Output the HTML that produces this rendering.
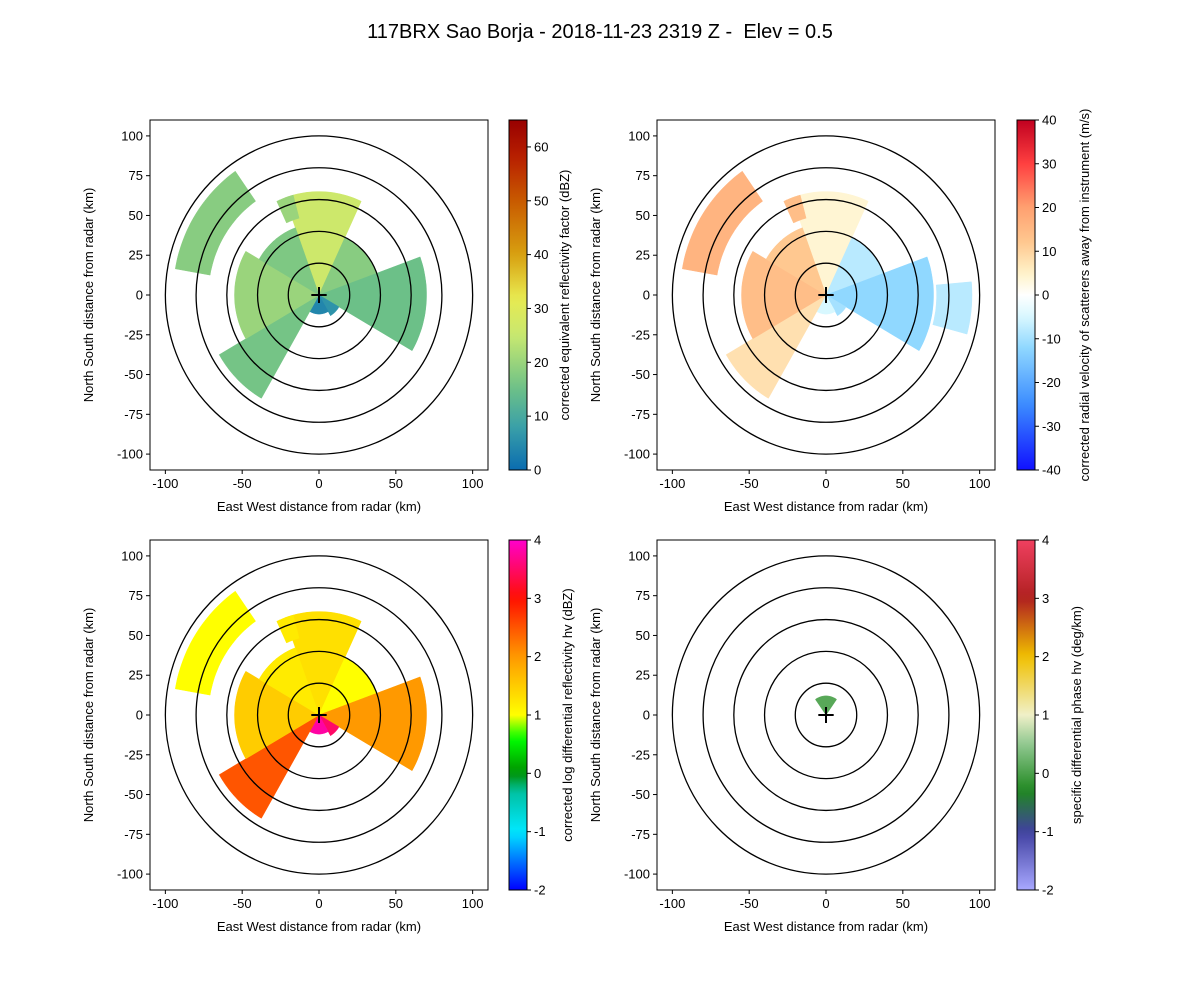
<!DOCTYPE html>
<html><head><meta charset="utf-8"><style>
body{margin:0;background:#fff}
svg text{font-family:"Liberation Sans",sans-serif;fill:#000}
</style></head><body>
<svg id="fig" width="1200" height="1000" xmlns="http://www.w3.org/2000/svg">
<text x="600" y="38" text-anchor="middle" font-size="20">117BRX Sao Borja - 2018-11-23 2319 Z -&#160; Elev = 0.5</text>
</svg>
<script>
// sector data: azimuth (deg clockwise from north), range extents (km)
const azStart = [-20, 25, 70, 120, 150, 210, 240, 300, 280, 335, 85];
const azEnd   = [ 25, 70, 120, 150, 210, 240, 300, 340, 325, 345, 105];
const rStart  = [  0,  0,  0,  0,  0,  0,  0,  0, 72, 50, 72];
const rEnd    = [ 65, 40, 70, 15, 12, 75, 55, 45, 95, 65, 95];
const reflVals = [26, 18, 15, 6, 4, 16, 20, 17, 18, 20, null];
const velVals  = [4, -8, -12, -10, -5, 8, 14, 12, 16, 14, -8];
const zdrVals  = [1.3, 1.0, 2.0, 3.5, 3.8, 2.5, 1.5, 1.2, 1.0, 1.2, null];
const kdpAzStart = [-35];
const kdpAzEnd = [35];
const kdpREnd = [12];
const kdpVals = [0.1];
const xTicks = [-100, -50, 0, 50, 100];
const yTicks = [-100, -75, -50, -25, 0, 25, 50, 75, 100];
const rings = [20, 40, 60, 80, 100];
const reflTicks = [0, 10, 20, 30, 40, 50, 60];
const velTicks = [-40, -30, -20, -10, 0, 10, 20, 30, 40];
const zdrTicks = [-2, -1, 0, 1, 2, 3, 4];
const kdpTicks = [-2, -1, 0, 1, 2, 3, 4];

const NS = "http://www.w3.org/2000/svg";
const svg = document.getElementById('fig');
function mk(tag, attrs, parent){const e=document.createElementNS(NS,tag);for(const k in attrs)e.setAttribute(k,attrs[k]);(parent||svg).appendChild(e);return e;}
function hex(h){return [parseInt(h.slice(1,3),16),parseInt(h.slice(3,5),16),parseInt(h.slice(5,7),16)];}
function cmap(stops, v){
  if(v<=stops[0][0])return stops[0][1];
  for(let i=1;i<stops.length;i++){if(v<=stops[i][0]){const a=stops[i-1],b=stops[i];const t=(v-a[0])/(b[0]-a[0]);const ca=hex(a[1]),cb=hex(b[1]);return 'rgb('+ca.map((c,j)=>Math.round(c+(cb[j]-c)*t)).join(',')+')';}}
  return stops[stops.length-1][1];
}
const reflCm=[[0,'#0a6cb0'],[8,'#3aa0a8'],[15,'#6cc088'],[25,'#c8e870'],[32,'#e8ea50'],[40,'#d8a010'],[50,'#c85a00'],[58,'#b82000'],[65,'#980000']];
const velCm=[[-40,'#1010ff'],[-25,'#3c8cff'],[-12,'#90d8ff'],[-5,'#d8f8ff'],[0,'#ffffff'],[5,'#fff2c8'],[12,'#ffc890'],[20,'#ffa070'],[30,'#ff4040'],[40,'#c00020']];
const zdrCm=[[-2,'#0000ff'],[-1,'#00e8ff'],[-0.3,'#00c0a0'],[0,'#009000'],[0.6,'#00ff00'],[1,'#ffff00'],[2,'#ff9900'],[3,'#ff1000'],[4,'#ff00cc']];
const kdpCm=[[-2,'#a8a8ff'],[-1,'#4040a0'],[-0.3,'#208820'],[0.5,'#90c890'],[1,'#f0f0c8'],[2,'#f0c000'],[3,'#b02020'],[4,'#f04060']];

const W=338,H=350;
function panel(x0,y0,name){
  const g=mk('g',{});
  
  
  const sx=km=>x0+(km+110)*W/220, sy=km=>y0+(110-km)*H/220;
  return {g,sx,sy,x0,y0};
}
function wedge(p,a0,a1,r0,r1,color,nm){
  let d='';const n=24;
  for(let i=0;i<=n;i++){const a=(a0+(a1-a0)*i/n)*Math.PI/180;d+=(i?'L':'M')+p.sx(r1*Math.sin(a)).toFixed(1)+','+p.sy(r1*Math.cos(a)).toFixed(1);}
  for(let i=n;i>=0;i--){const a=(a0+(a1-a0)*i/n)*Math.PI/180;d+='L'+p.sx(r0*Math.sin(a)).toFixed(1)+','+p.sy(r0*Math.cos(a)).toFixed(1);}
  const e=mk('path',{d:d+'Z',fill:color,stroke:color,'stroke-width':0.5},p.g);
  
  
}
function axesDecor(p,colTicks,cm,lo,hi,label,cbX,gid,labOff){
  rings.forEach(r=>{const c=mk('ellipse',{cx:p.sx(0),cy:p.sy(0),rx:r*W/220,ry:r*H/220,fill:'none',stroke:'#000','stroke-width':1.3},p.g);
    
    });
  const cr=mk('path',{d:`M${p.sx(-5)},${p.sy(0)}H${p.sx(5)}M${p.sx(0)},${p.sy(-5)}V${p.sy(5)}`,stroke:'#000','stroke-width':2},p.g);
  
  
  const fr=mk('rect',{x:p.x0,y:p.y0,width:W,height:H,fill:'none',stroke:'#000','stroke-width':1},p.g);
  
  
  xTicks.forEach(t=>{mk('line',{x1:p.sx(t),x2:p.sx(t),y1:p.y0+H,y2:p.y0+H+4,stroke:'#000'},p.g);
    const tx=mk('text',{x:p.sx(t),y:p.y0+H+18,'text-anchor':'middle','font-size':13},p.g);tx.textContent=t;
    
    });
  yTicks.forEach(t=>{mk('line',{x1:p.x0-4,x2:p.x0,y1:p.sy(t),y2:p.sy(t),stroke:'#000'},p.g);
    const tx=mk('text',{x:p.x0-7,y:p.sy(t)+4.5,'text-anchor':'end','font-size':13},p.g);tx.textContent=t;
    
    });
  const xl=mk('text',{x:p.x0+W/2,y:p.y0+H+41,'text-anchor':'middle','font-size':13},p.g);xl.textContent='East West distance from radar (km)';
  
  
  const yl=mk('text',{x:0,y:0,'text-anchor':'middle','font-size':13,transform:`translate(${p.x0-57},${p.y0+H/2}) rotate(-90)`},p.g);yl.textContent='North South distance from radar (km)';
  
  
  const defs=mk('defs',{},p.g);const lg=mk('linearGradient',{id:gid,x1:0,y1:1,x2:0,y2:0},defs);
  for(let i=0;i<=40;i++){const v=lo+(hi-lo)*i/40;mk('stop',{offset:i/40,'stop-color':cmap(cm,v)},lg);}
  const cb=mk('rect',{x:cbX,y:p.y0,width:18,height:H,fill:`url(#${gid})`,stroke:'#000','stroke-width':1},p.g);
  
  
  const cy=v=>p.y0+H-(v-lo)/(hi-lo)*H;
  colTicks.forEach(t=>{mk('line',{x1:cbX+18,x2:cbX+22,y1:cy(t),y2:cy(t),stroke:'#000'},p.g);
    const tx=mk('text',{x:cbX+25,y:cy(t)+4.5,'font-size':13},p.g);tx.textContent=t;
    
    });
  const cl=mk('text',{x:0,y:0,'text-anchor':'middle','font-size':13,transform:`translate(${cbX+labOff},${p.y0+H/2}) rotate(-90)`},p.g);cl.textContent=label;
  
  
}
function sectors(p,vals,cm,nm){
  for(let i=0;i<azStart.length;i++){if(vals[i]==null)continue;wedge(p,azStart[i],azEnd[i],rStart[i],rEnd[i],cmap(cm,vals[i]),nm+'-sector-'+i);}
}
const p1=panel(150,120,'reflectivity-panel');sectors(p1,reflVals,reflCm,'reflectivity');
axesDecor(p1,reflTicks,reflCm,0,65,'corrected equivalent reflectivity factor (dBZ)',509,'g1',60);
const p2=panel(657,120,'velocity-panel');sectors(p2,velVals,velCm,'velocity');
axesDecor(p2,velTicks,velCm,-40,40,'corrected radial velocity of scatterers away from instrument (m/s)',1017,'g2',72);
const p3=panel(150,540,'zdr-panel');sectors(p3,zdrVals,zdrCm,'zdr');
axesDecor(p3,zdrTicks,zdrCm,-2,4,'corrected log differential reflectivity hv (dBZ)',509,'g3',63);
const p4=panel(657,540,'kdp-panel');
for(let i=0;i<kdpVals.length;i++)wedge(p4,kdpAzStart[i],kdpAzEnd[i],0,kdpREnd[i],cmap(kdpCm,kdpVals[i]),'kdp-sector-'+i);
axesDecor(p4,kdpTicks,kdpCm,-2,4,'specific differential phase hv (deg/km)',1017,'g4',64);
</script>
</body></html>
